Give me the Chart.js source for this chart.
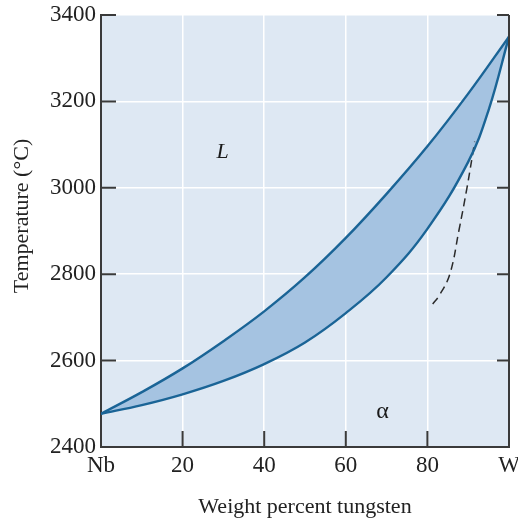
<!DOCTYPE html>
<html>
<head>
<meta charset="utf-8">
<script src="https://cdn.jsdelivr.net/npm/chart.js@4/dist/chart.umd.min.js"></script>
<style>
  body { margin: 0; background: #fff; }
  canvas { display: block; }
</style>
</head>
<body>
<canvas id="chart" width="518" height="524"></canvas>
<script>
// Nb-W phase diagram
const liqX = [0, 10, 20, 30, 40, 50, 60, 70, 80, 90, 100];
const liqT = [2477, 2527, 2582, 2645, 2714, 2793, 2884, 2986, 3096, 3218, 3350];

const solX = [0, 10, 20, 30, 40, 50, 60, 70, 80, 90, 95, 100];
const solT = [2477, 2497, 2522, 2553, 2592, 2642, 2710, 2793, 2905, 3060, 3180, 3350];

// dashed line (alpha region boundary)
const dashX = [81.3, 83.0, 85.5, 87.7, 89.7, 91.6];
const dashT = [2731, 2752, 2800, 2900, 3000, 3107];

const xTicks = [0, 20, 40, 60, 80, 100];
const xTickNames = ['Nb', '20', '40', '60', '80', 'W'];
const yTicks = [2400, 2600, 2800, 3000, 3200, 3400];

const phaseNames = ['L', 'α'];
const phaseX = [29.8, 69];
const phaseT = [3083, 2481];

const yTitle = 'Temperature (°C)';

const lineColor = '#1a6496';
const fillColor = '#a5c3e1';
const plotBg = '#dee8f3';
const axisColor = '#3a3a3a';
const serif = "'Liberation Serif', 'DejaVu Serif', serif";

const pts = (xs, ys) => xs.map((x, i) => ({ x: x, y: ys[i] }));

// light blue plot area, inward ticks, right axis, phase labels, y title
const decor = {
    id: 'decor',
    beforeDraw(chart) {
        const { ctx, chartArea: a } = chart;
        ctx.save();
        ctx.fillStyle = plotBg;
        ctx.fillRect(a.left, a.top, a.right - a.left, a.bottom - a.top);
        ctx.restore();
    },
    afterDraw(chart) {
        const { ctx, chartArea: a, scales } = chart;
        ctx.save();
        ctx.strokeStyle = axisColor;
        ctx.lineWidth = 2;
        ctx.beginPath();
        // right axis
        ctx.moveTo(a.right, a.top);
        ctx.lineTo(a.right, a.bottom + 1);
        // y ticks on both sides
        yTicks.slice(1).forEach(t => {
            const y = scales.y.getPixelForValue(t);
            ctx.moveTo(a.left, y);
            ctx.lineTo(a.left + 15, y);
            ctx.moveTo(a.right, y);
            ctx.lineTo(a.right - 12, y);
        });
        // x ticks
        xTicks.slice(1, -1).forEach(t => {
            const x = scales.x.getPixelForValue(t);
            ctx.moveTo(x, a.bottom);
            ctx.lineTo(x, a.bottom - 16);
        });
        ctx.stroke();

        ctx.fillStyle = '#1a1a1a';
        ctx.textAlign = 'center';
        ctx.textBaseline = 'middle';
        phaseNames.forEach((name, i) => {
            ctx.font = (i === 0 ? 'italic 22px ' : '24px ') + serif;
            ctx.fillText(name, scales.x.getPixelForValue(phaseX[i]), scales.y.getPixelForValue(phaseT[i]));
        });

        ctx.fillStyle = '#222';
        ctx.font = '22px ' + serif;
        ctx.translate(22, 216);
        ctx.rotate(-Math.PI / 2);
        ctx.fillText(yTitle, 0, 0);
        ctx.restore();
    }
};

new Chart(document.getElementById('chart'), {
    type: 'scatter',
    data: {
        datasets: [
            {
                label: 'Liquidus',
                data: pts(liqX, liqT),
                showLine: true,
                borderColor: lineColor,
                borderWidth: 2.4,
                backgroundColor: fillColor,
                fill: '+1',
                pointRadius: 0,
                tension: 0.4
            },
            {
                label: 'Solidus',
                data: pts(solX, solT),
                showLine: true,
                borderColor: lineColor,
                borderWidth: 2.4,
                fill: false,
                pointRadius: 0,
                tension: 0.4
            },
            {
                label: 'Boundary',
                data: pts(dashX, dashT),
                showLine: true,
                borderColor: '#2a2a2a',
                borderWidth: 1.5,
                borderDash: [8, 5],
                fill: false,
                pointRadius: 0,
                tension: 0.4
            }
        ]
    },
    options: {
        responsive: false,
        animation: false,
        devicePixelRatio: 1,
        layout: { padding: { left: 0, right: 9, top: 15, bottom: 0 } },
        plugins: {
            legend: { display: false },
            tooltip: { enabled: false },
            filler: { drawTime: 'beforeDatasetsDraw' }
        },
        scales: {
            x: {
                type: 'linear',
                min: 0,
                max: 100,
                afterFit: s => { s.height = 77; s.paddingLeft = 0; s.paddingRight = 0; },
                afterBuildTicks: s => { s.ticks = xTicks.map(v => ({ value: v })); },
                ticks: {
                    padding: 5,
                    maxRotation: 0,
                    color: '#222',
                    font: { family: serif, size: 23 },
                    callback: v => xTickNames[xTicks.indexOf(v)]
                },
                grid: { color: '#ffffff', lineWidth: 1.5, drawTicks: false },
                border: { color: axisColor, width: 2 },
                title: {
                    display: true,
                    text: 'Weight percent tungsten',
                    color: '#222',
                    font: { family: serif, size: 22 },
                    padding: { top: 0, bottom: 4 }
                }
            },
            y: {
                min: 2400,
                max: 3400,
                afterFit: s => { s.width = 101; s.paddingTop = 0; s.paddingBottom = 0; },
                afterBuildTicks: s => { s.ticks = yTicks.map(v => ({ value: v })); },
                ticks: {
                    padding: 5,
                    color: '#222',
                    font: { family: serif, size: 23 },
                    callback: v => String(v)
                },
                grid: { color: '#ffffff', lineWidth: 1.5, drawTicks: false },
                border: { color: axisColor, width: 2 },
                title: { display: false }
            }
        }
    },
    plugins: [decor]
});
</script>
</body>
</html>
